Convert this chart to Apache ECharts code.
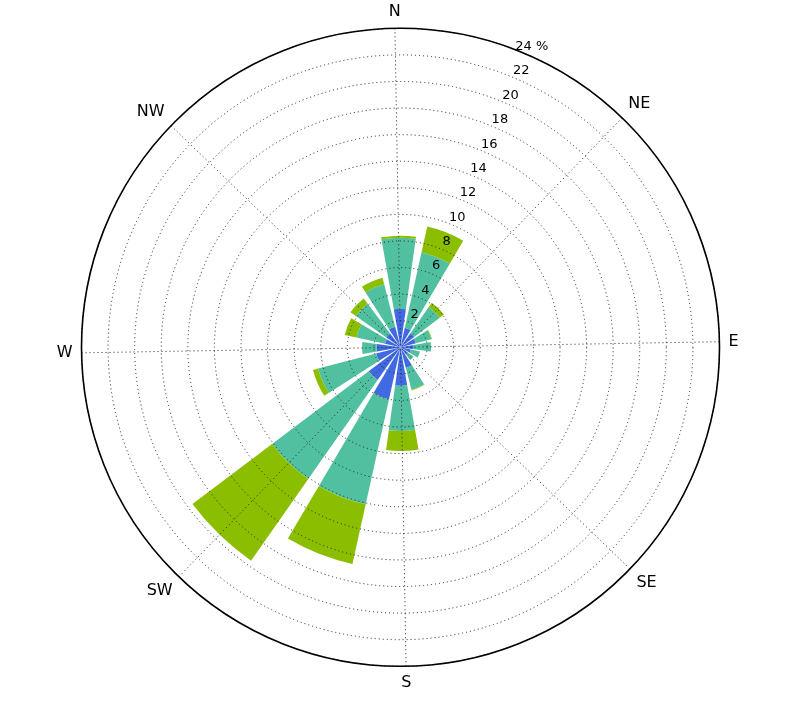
<!DOCTYPE html>
<html>
<head>
<meta charset="utf-8">
<script src="https://cdn.jsdelivr.net/npm/echarts@6/dist/echarts.min.js"></script>
<style>
html,body{margin:0;padding:0;background:#fff;}
#chart{width:800px;height:707px;}
</style>
</head>
<body>
<div id="chart"></div>
<script>
const directions = ['N','NNE','NE','ENE','E','ESE','SE','SSE','S','SSW','SW','WSW','W','WNW','NW','NNW'];
const compassLabels = ['N','NE','E','SE','S','SW','W','NW'];
const radiusTicks = [2,4,6,8,10,12,14,16,18,20,22,24];
const bin1 = [2.9, 1.5, 1.3, 1.2, 1.0, 0.8, 0.7, 1.6, 2.9, 4.0, 3.0, 1.9, 1.8, 1.2, 1.3, 1.6];
const bin2 = [5.35, 5.8, 2.4, 1.2, 1.3, 0.7, 0.5, 1.7, 3.4, 8.1, 9.1, 4.5, 1.1, 2.2, 2.8, 3.3];
const bin3 = [0.15, 2.0, 0.4, 0.05, 0, 0, 0, 0.05, 1.5, 4.6, 7.5, 0.4, 0, 0.9, 0.5, 0.5];

const CX = 400.5, CY = 347.3, R = 319, ROT = 1;
const FONT = 'DejaVu Sans';
const chart = echarts.init(document.getElementById('chart'));
const gridLine = {color: '#222', width: 1, type: [1, 3]};

chart.setOption({
  animation: false,
  backgroundColor: '#fff',
  polar: [
    {center: [CX, CY], radius: R},
    {center: [CX, CY], radius: R},
    {center: [CX, CY], radius: [9, R + 9]}
  ],
  angleAxis: [
    {polarIndex: 0, type: 'category', data: directions, startAngle: 90 + ROT + 11.25, clockwise: true, show: false},
    {polarIndex: 1, type: 'value', min: 0, max: 360, interval: 45, startAngle: 90 + ROT, clockwise: true, z: 5,
     axisLine: {show: true, lineStyle: {color: '#000', width: 1.6}},
     axisTick: {show: false},
     splitLine: {show: true, lineStyle: gridLine},
     axisLabel: {show: true, margin: 9, fontSize: 16, color: '#000', fontFamily: FONT,
       formatter: v => compassLabels[Math.round(v / 45) % 8]}},
    {polarIndex: 2, type: 'value', min: 0, max: 360, startAngle: 66.4, clockwise: true, show: false}
  ],
  radiusAxis: [
    {polarIndex: 0, type: 'value', min: 0, max: 24, show: false},
    {polarIndex: 1, type: 'value', min: 0, max: 24, interval: 2, z: 5,
     axisLine: {show: false}, axisTick: {show: false}, axisLabel: {show: false},
     splitLine: {show: true, lineStyle: gridLine}},
    {polarIndex: 2, type: 'value', min: 0, max: 24, interval: 2, z: 6,
     axisLine: {show: false}, axisTick: {show: false}, splitLine: {show: false},
     axisLabel: {show: true, margin: 0, rotate: 0, align: 'center', verticalAlign: 'middle', fontSize: 13, color: '#000', fontFamily: FONT,
       formatter: v => (radiusTicks.indexOf(v) < 0 ? '' : (v === 24 ? '24 %' : String(v)))}}
  ],
  series: [
    {type: 'bar', coordinateSystem: 'polar', polarIndex: 0, stack: 'wind', data: bin1, barCategoryGap: '20%', itemStyle: {color: '#4169E1'}},
    {type: 'bar', coordinateSystem: 'polar', polarIndex: 0, stack: 'wind', data: bin2, barCategoryGap: '20%', itemStyle: {color: '#50C0A0'}},
    {type: 'bar', coordinateSystem: 'polar', polarIndex: 0, stack: 'wind', data: bin3, barCategoryGap: '20%', itemStyle: {color: '#8CBE00'}}
  ]
});
</script>
</body>
</html>
